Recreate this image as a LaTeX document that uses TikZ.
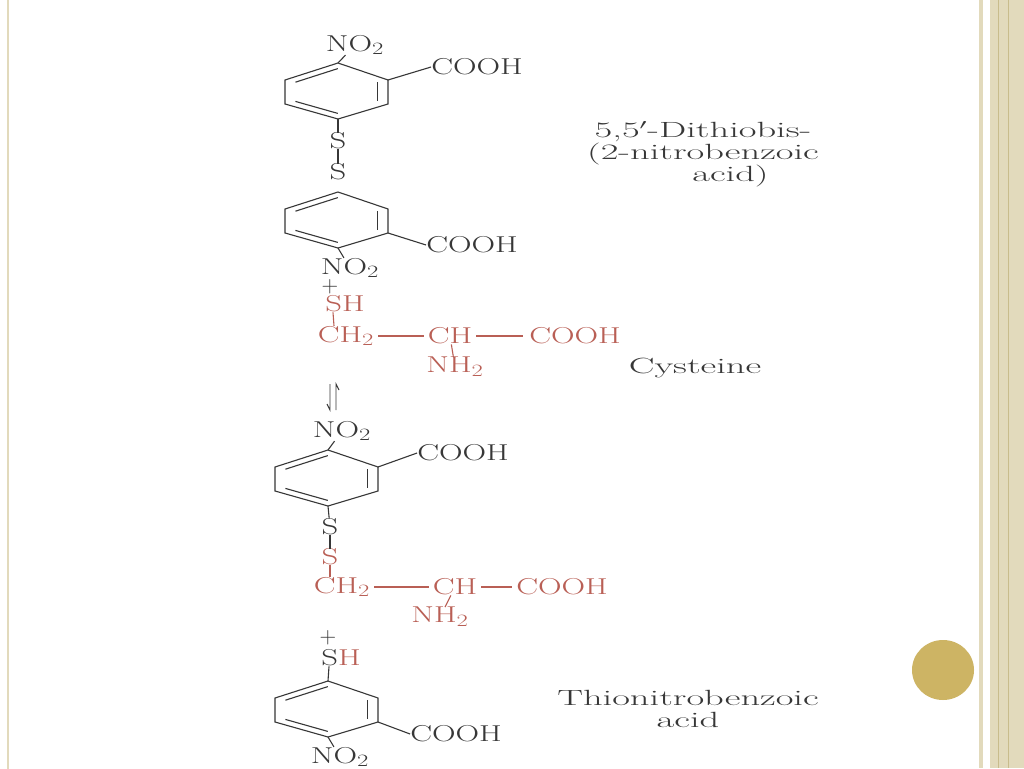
\documentclass[tikz,border=0pt]{standalone}
\usepackage{graphicx}
\usetikzlibrary{calc}
\definecolor{ink}{RGB}{55,55,55}
\definecolor{rd}{RGB}{185,95,85}
\definecolor{gold}{RGB}{205,180,100}
\definecolor{beige}{RGB}{226,218,188}
\definecolor{beiged}{RGB}{200,188,140}
\newcommand{\chw}[1]{\scalebox{1.42}[1]{#1}}
\newcommand{\lbw}[1]{\scalebox{1.75}[1]{#1}}
\newcommand{\myring}[3]{%
  \coordinate (#1a) at (#2,#3);
  \coordinate (#1b) at (#2+50,#3+17);
  \coordinate (#1c) at (#2+50,#3+41);
  \coordinate (#1d) at (#2,#3+56);
  \coordinate (#1e) at (#2-53,#3+41);
  \coordinate (#1f) at (#2-53,#3+17);
  \coordinate (#1o) at (#2-1,#3+28);
  \draw[bond] (#1a)--(#1b)--(#1c)--(#1d)--(#1e)--(#1f)--cycle;
  \draw[bond] ($(#1o)!0.8!(#1f)$)--($(#1o)!0.8!(#1a)$);
  \draw[bond] ($(#1o)!0.8!(#1b)$)--($(#1o)!0.8!(#1c)$);
  \draw[bond] ($(#1o)!0.8!(#1d)$)--($(#1o)!0.8!(#1e)$);
}
\begin{document}
\begin{tikzpicture}[x=1pt,y=-1pt,
  bond/.style={draw=ink,line width=1.1pt},
  rbond/.style={draw=rd,line width=1.1pt},
  t/.style={text=ink,inner sep=0pt,font=\fontsize{23}{24}\selectfont},
  r/.style={text=rd,inner sep=0pt,font=\fontsize{23}{24}\selectfont},
  lab/.style={text=ink,align=center,font=\fontsize{22}{22}\selectfont}]
\useasboundingbox (0,0) rectangle (1024,768);
\fill[white] (0,0) rectangle (1024,768);
\draw[beige,line width=1.2pt] (8,-2) -- (8,770);
\fill[beige] (979,0) rectangle (983,768);
\fill[beige] (990,0) rectangle (1024,768);
\draw[beiged,line width=0.6pt] (998,0) -- (998,768);
\draw[beiged,line width=0.6pt] (1008,0) -- (1008,768);
\fill[gold] (943,670) ellipse (31 and 30);
% ring 1
\myring{A}{338}{63}
\node[t] (A1) at (355,45) {\chw{NO$_2$}};
\node[t] (A2) at (477,67) {\chw{COOH}};
\draw[bond] (Aa)--(A1);
\draw[bond] (Ab)--(A2.west);
\node[t] (S1) at (338,141) {\chw{S}};
\node[t] (S2) at (338,172) {\chw{S}};
\draw[bond] (Ad)--(S1); \draw[bond] (S1)--(S2);
% ring 2
\myring{B}{338}{192}
\node[t] (B2) at (472,245) {\chw{COOH}};
\node[t] (B1) at (350,268) {\chw{NO$_2$}};
\draw[bond] (Bc)--(B2.west);
\draw[bond] (Bd)--(B1);
\node[t] (P1) at (330,287) {+};
% cysteine
\node[r] (C1) at (345,304) {\chw{SH}};
\node[r] (C2) at (346,336) {\chw{CH$_2$}};
\node[r] (C3) at (450,336) {\chw{CH}};
\node[r] (C4) at (575,336) {\chw{COOH}};
\node[r] (C5) at (455,367) {\chw{NH$_2$}};
\draw[rbond] ([xshift=-12pt]C1.south)--([xshift=-12pt]C2.north);
\draw[rbond] ([xshift=4pt]C2.east)--([xshift=-4pt]C3.west);
\draw[rbond] ([xshift=4pt]C3.east)--([xshift=-6pt]C4.west);
\draw[rbond] (C3)--(C5);
\node[lab] (L1) at (703,154) {\lbw{5,5$'$-Dithiobis-}\\\lbw{(2-nitrobenzoic}\\\hspace*{2.5em}\lbw{acid)}};
\node[lab] (L2) at (695,368) {\lbw{Cysteine}};
% equilibrium
\coordinate (E1) at (330,384); \coordinate (E2) at (330,410);
\coordinate (E3) at (336,384); \coordinate (E4) at (336,410);
\draw[bond,line width=0.9pt] (E1)--(E2) -- ++(-3,-6);
\draw[bond,line width=0.9pt] (E4)--(E3) -- ++(3,6);
% ring 3
\node[t] (D1) at (342,431) {\chw{NO$_2$}};
\myring{D}{328}{450}
\draw[bond] (D1)--(Da);
\node[t] (D2) at (463,453) {\chw{COOH}};
\draw[bond] (Db)--(D2.west);
\node[t] (T1) at (330,527) {\chw{S}};
\node[r] (T2) at (330,557) {\chw{S}};
\draw[bond] (Dd)--(T1); \draw[bond] (T1)--(T2);
\node[r] (F2) at (342,587) {\chw{CH$_2$}};
\node[r] (F3) at (455,587) {\chw{CH}};
\node[r] (F4) at (562,587) {\chw{COOH}};
\node[r] (F5) at (440,617) {\chw{NH$_2$}};
\draw[rbond] (T2)--([xshift=-12pt]F2.north);
\draw[rbond] ([xshift=4pt]F2.east)--([xshift=-4pt]F3.west);
\draw[rbond] ([xshift=4pt]F3.east)--([xshift=-4pt]F4.west);
\draw[rbond] (F3)--(F5);
\node[t] (P2) at (328,638) {+};
% ring 4
\node[inner sep=0pt,font=\fontsize{23}{24}\selectfont] (G1) at (341,658) {\chw{\textcolor{ink}{S}\textcolor{rd}{H}}};
\myring{G}{328}{681}
\draw[bond] ([xshift=-12pt]G1.south) -- (Ga);
\node[t] (G2) at (456,734) {\chw{COOH}};
\node[t] (G3) at (340,757) {\chw{NO$_2$}};
\draw[bond] (Gc)--(G2.west);
\draw[bond] (Gd)--(G3);
\node[lab] (L3) at (688,709) {\lbw{Thionitrobenzoic}\\\lbw{acid}};
\end{tikzpicture}
\end{document}
